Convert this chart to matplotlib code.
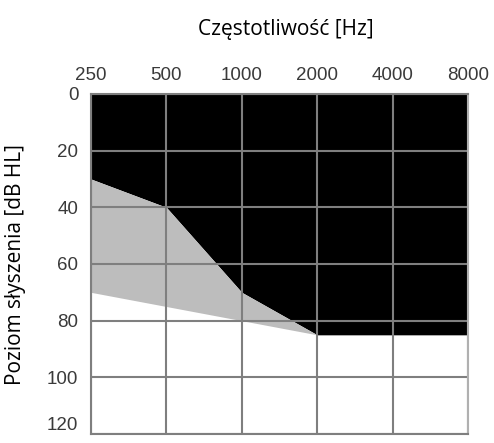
import numpy as np
import matplotlib
matplotlib.use("Agg")
import matplotlib.pyplot as plt

# audiogram: frequencies (Hz) and hearing-level boundaries (dB HL)
FREQS = [250, 500, 1000, 2000, 4000, 8000]
FREQ_LABELS = ["250", "500", "1000", "2000", "4000", "8000"]
BLACK_EDGE = [30, 40, 70, 85, 85, 85]        # lower edge of black zone
GRAY_FREQS = [250, 500, 1000, 2000]
GRAY_EDGE = [70, 75, 80, 85]                 # lower edge of gray zone
GRAY_TOP = [30, 40, 70, 85]
DB_TICKS = [0, 20, 40, 60, 80, 100, 120]

GRID = "#7f7f7f"

fig = plt.figure(figsize=(4.94, 4.43), dpi=100)
ax = fig.add_axes([91 / 494, 9 / 443, 377 / 494, 340 / 443])

x = np.log2(np.array(FREQS) / 250)
xg = np.log2(np.array(GRAY_FREQS) / 250)

ax.fill_between(x, 0, BLACK_EDGE, color="black", lw=0, zorder=1)
ax.fill_between(xg, GRAY_TOP, GRAY_EDGE, color="#bdbdbd", lw=0, zorder=1)

ax.set_xlim(0, 5)
ax.set_ylim(120, 0)
ax.set_xticks(x)
ax.set_xticklabels(FREQ_LABELS)
ax.set_yticks(DB_TICKS)
ax.xaxis.tick_top()
ax.tick_params(length=0, labelsize=13.5, colors="#3a3a3a")
ax.tick_params(axis="x", pad=7)
ax.tick_params(axis="y", pad=9)
for lab in ax.get_xticklabels() + ax.get_yticklabels():
    lab.set_family("Liberation Sans")
ax.get_yticklabels()[-1].set_va("bottom")
ax.grid(True, color=GRID, lw=1.5, zorder=3)
ax.set_axisbelow(False)
for s in ax.spines.values():
    s.set_color(GRID)
    s.set_linewidth(1.5)
    s.set_zorder(4)
ax.spines["right"].set_color("#b0b0b0")

fig.text(286 / 494, 1 - 30 / 443, "Częstotliwość [Hz]", ha="center", va="center",
         fontsize=15, family="Open Sans")
fig.text(16 / 494, 1 - 265 / 443, "Poziom słyszenia [dB HL]", ha="center", va="center",
         rotation=90, fontsize=15, family="Open Sans")

fig.savefig("out.png", dpi=100)
